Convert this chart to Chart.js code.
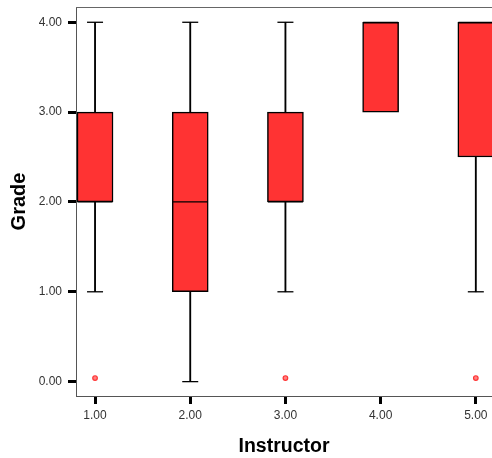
<!DOCTYPE html>
<html>
<head>
<meta charset="utf-8">
<script src="https://cdn.jsdelivr.net/npm/chart.js@4/dist/chart.umd.min.js"></script>
<style>
  html, body { margin: 0; padding: 0; background: #fff; }
  #wrap { width: 492px; height: 458px; }
</style>
</head>
<body>
<div id="wrap"><canvas id="boxchart"></canvas></div>
<script>
// instructors 1..5, grade summaries
const instructors = [1, 2, 3, 4, 5];
const mins    = [1, 0, 1, 3, 1];
const q1s     = [2, 1, 2, 3, 2.5];
const medians = [2, 2, 2, 4, 4];
const q3s     = [3, 3, 3, 4, 4];
const maxs    = [4, 4, 4, 4, 4];
const outlierX = [1, 3, 5];
const outlierY = [0.04, 0.04, 0.04];
const tickValues = [0, 1, 2, 3, 4];

const boxes = instructors.map((x, i) => ({ x: x, y: [q1s[i], q3s[i]] }));
const lowWhiskers = instructors.map((x, i) => ({ x: x, y: [mins[i], q1s[i]] })).filter(d => d.y[0] < d.y[1]);
const highWhiskers = instructors.map((x, i) => ({ x: x, y: [q3s[i], maxs[i]] })).filter(d => d.y[0] < d.y[1]);
const caps = [];
instructors.forEach((x, i) => {
  if (mins[i] < q1s[i]) caps.push({ x: x, y: mins[i] });
  if (maxs[i] > q3s[i]) caps.push({ x: x, y: maxs[i] });
});
const medianPts = instructors.map((x, i) => ({ x: x, y: medians[i] }));
const outliers = outlierX.map((x, i) => ({ x: x, y: outlierY[i] }));

const topBorder = {
  id: 'topBorder',
  afterDraw(chart) {
    const { ctx, chartArea } = chart;
    ctx.save();
    ctx.strokeStyle = '#666';
    ctx.lineWidth = 1;
    ctx.beginPath();
    ctx.moveTo(chartArea.left, chartArea.top + 0.5);
    ctx.lineTo(chartArea.right, chartArea.top + 0.5);
    ctx.stroke();
    ctx.restore();
  }
};

const ctx = document.getElementById('boxchart');

new Chart(ctx, {
  type: 'bar',
  data: {
    datasets: [
      {
        type: 'scatter',
        data: outliers,
        pointStyle: 'circle',
        radius: 2.3,
        borderWidth: 1.2,
        borderColor: '#ff3333',
        backgroundColor: '#ff8080',
        order: 0
      },
      {
        type: 'scatter',
        data: medianPts,
        pointStyle: 'line',
        radius: 17.5,
        borderWidth: 1.2,
        borderColor: '#000',
        order: 1
      },
      {
        data: boxes,
        grouped: false,
        barThickness: 36,
        backgroundColor: '#ff3333',
        borderColor: '#000',
        borderWidth: 1.5,
        borderSkipped: false,
        order: 2
      },
      {
        data: lowWhiskers,
        grouped: false,
        barThickness: 1.2,
        backgroundColor: '#000',
        borderWidth: 0,
        order: 3
      },
      {
        data: highWhiskers,
        grouped: false,
        barThickness: 1.2,
        backgroundColor: '#000',
        borderWidth: 0,
        order: 3
      },
      {
        type: 'scatter',
        data: caps,
        pointStyle: 'line',
        radius: 8,
        borderWidth: 1.3,
        borderColor: '#000',
        order: 3
      }
    ]
  },
  options: {
    responsive: true,
    maintainAspectRatio: false,
    animation: false,
    layout: { autoPadding: false, padding: { top: 7, right: 0, left: 0, bottom: 0 } },
    plugins: {
      legend: { display: false },
      tooltip: { enabled: false }
    },
    scales: {
      x: {
        type: 'linear',
        offset: false,
        min: 0.8,
        max: 5.17,
        afterBuildTicks: (scale) => { scale.ticks = instructors.map(v => ({ value: v })); },
        afterFit: (scale) => {
          scale.height = 62;
          scale.paddingLeft = 0;
          scale.paddingRight = 0;
        },
        grid: {
          offset: false,
          drawOnChartArea: false,
          drawTicks: true,
          tickLength: 8,
          tickWidth: 3,
          tickColor: '#000'
        },
        border: { display: true, color: '#555', width: 1 },
        ticks: {
          padding: 4,
          color: '#333',
          font: { family: 'Liberation Sans, Arial', size: 12 },
          callback: (v) => Number(v).toFixed(2)
        },
        title: {
          display: true,
          text: 'Instructor',
          color: '#000',
          font: { family: 'Liberation Sans, Arial', size: 19.5, weight: 'bold' },
          padding: { top: 4, bottom: 0 }
        }
      },
      y: {
        type: 'linear',
        min: -0.16,
        max: 4.17,
        afterBuildTicks: (scale) => { scale.ticks = tickValues.map(v => ({ value: v })); },
        afterFit: (scale) => {
          scale.width = 76;
          scale.paddingTop = 0;
          scale.paddingBottom = 0;
        },
        grid: {
          drawOnChartArea: false,
          drawTicks: true,
          tickLength: 8,
          tickWidth: 3,
          tickColor: '#000'
        },
        border: { display: true, color: '#555', width: 1 },
        ticks: {
          padding: 6,
          color: '#333',
          font: { family: 'Liberation Sans, Arial', size: 12 },
          callback: (v) => Number(v).toFixed(2)
        },
        title: {
          display: true,
          text: 'Grade',
          color: '#000',
          font: { family: 'Liberation Sans, Arial', size: 20, weight: 'bold' },
          padding: { top: 7, bottom: 0 },
          align: 'center'
        }
      }
    }
  },
  plugins: [topBorder]
});
</script>
</body>
</html>
